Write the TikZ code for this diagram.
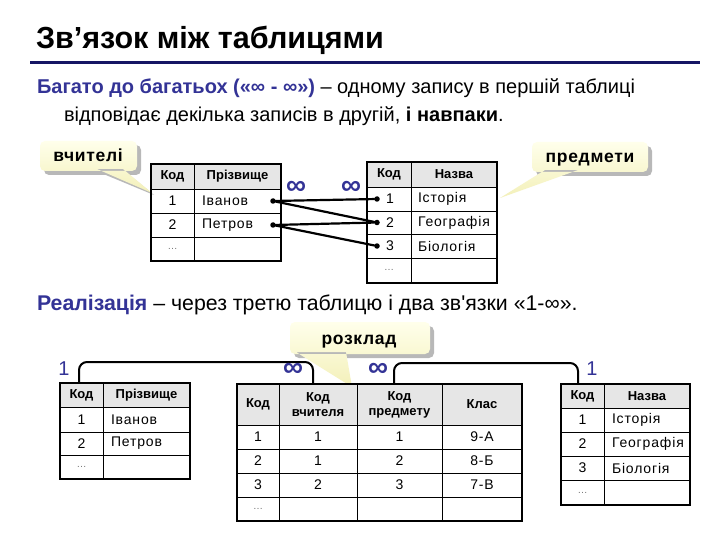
\documentclass[tikz,border=0pt]{standalone}
\usepackage{fontspec}
\setmainfont{Liberation Sans}[Ligatures=TeXOff]
\newfontfamily\cellfont{Liberation Sans}[Ligatures=TeXOff, LetterSpace=6]
\newfontfamily\callfont{Liberation Sans}[Ligatures=TeXOff, LetterSpace=4]
\definecolor{myblue}{RGB}{51,51,150}
\definecolor{navy}{RGB}{22,22,100}
\definecolor{hdrgrey}{RGB}{230,230,230}
\definecolor{bubtop}{RGB}{255,255,235}
\definecolor{bubbot}{RGB}{243,240,185}
\begin{document}
\begin{tikzpicture}[x=1pt,y=-1pt,
  every node/.style={inner sep=0pt, outer sep=0pt},
  ttl/.style={font=\fontsize{30.5}{34}\selectfont\bfseries, anchor=west},
  body/.style={font=\fontsize{20}{24}\selectfont, anchor=west},
  cell/.style={font=\fontsize{14}{16}\selectfont\cellfont},
  hcell/.style={font=\fontsize{13}{15}\selectfont\bfseries, align=center},
  lcell/.style={cell, anchor=west},
  etc/.style={font=\fontsize{10}{12}\selectfont, text=black!55},
  card/.style={font=\fontsize{20}{24}\selectfont, text=myblue},
  inf/.style={font=\fontsize{28}{30}\selectfont\bfseries, text=myblue},
  calltxt/.style={font=\fontsize{17.5}{20}\selectfont\callfont\bfseries, anchor=base},
  tblframe/.style={draw=black, line width=2pt},
  tblgrid/.style={draw=black, line width=0.9pt},
  link/.style={line width=2.2pt, line cap=round},
  pin/.style={circle, fill=black, minimum size=5.5pt, inner sep=0pt},
  rel/.style={line width=2pt, rounded corners=8pt},
  bubble/.style={top color=bubtop, bottom color=bubbot, draw=none},
  bubshadow/.style={fill=black!28},
]
\useasboundingbox (0,0) rectangle (720,540);
\fill[white] (0,0) rectangle (720,540);

% ---------- title ----------
\node[ttl] (title) at (36,40) {Зв’язок між таблицями};
\draw[navy, line width=3pt] (30,63) -- (700,63);

\node[body] (s1) at (37,88) {\textcolor{myblue}{\bfseries Багато до багатьох («∞ - ∞»)} – одному запису в першій таблиці};
\node[body] (s2) at (64,116) {відповідає декілька записів в другій, \textbf{і навпаки}.};

% ---------- callout: вчителі ----------
\fill[bubshadow, rounded corners=5pt] (44,145) rectangle (141,175);
\fill[bubshadow] (101,173) -- (127,173) -- (154,195) -- cycle;
\shade[bubble, rounded corners=5pt] (40,141) rectangle (137,171) [sharp corners] (97,169) -- (123,169) -- (152,193) -- cycle;
\node[calltxt] (cteach) at (88,162) {вчителі};

% ---------- callout: предмети ----------
\fill[bubshadow, rounded corners=5pt] (536,146) rectangle (652,176);
\shade[bubble, rounded corners=5pt] (532,142) rectangle (648,172) [sharp corners] (545,170) -- (578,170) -- (500,198) -- cycle;
\node[calltxt] (csubj) at (590,163) {предмети};

% ---------- top table 1 (teachers) ----------
\fill[hdrgrey] (151,164) rectangle (281,189);
\draw[tblgrid] (151,189) -- (281,189) (151,213) -- (281,213) (151,237) -- (281,237) (194,164) -- (194,261);
\draw[tblframe] (151,164) rectangle (281,261);
\node[hcell] (ta-h1) at (172.5,176.5) {Код};
\node[hcell] (ta-h2) at (237.5,176.5) {Прізвище};
\node[cell] (ta-k1) at (172.5,201) {1};
\node[lcell] (ta-n1) at (202,201) {Іванов};
\node[cell] (ta-k2) at (172.5,225) {2};
\node[lcell] (ta-n2) at (202,225) {Петров};
\node[etc] (ta-k3) at (172.5,249) {…};

% ---------- top table 2 (subjects) ----------
\fill[hdrgrey] (367,162) rectangle (497,187);
\draw[tblgrid] (367,187) -- (497,187) (367,211) -- (497,211) (367,234) -- (497,234) (367,258) -- (497,258) (411,162) -- (411,283);
\draw[tblframe] (367,162) rectangle (497,283);
\node[hcell] (tb-h1) at (389,174.5) {Код};
\node[hcell] (tb-h2) at (454,174.5) {Назва};
\node[cell] (tb-k1) at (390,199) {1};
\node[lcell] (tb-n1) at (418,199) {Історія};
\node[cell] (tb-k2) at (390,222.5) {2};
\node[lcell] (tb-n2) at (418,222.5) {Географія};
\node[cell] (tb-k3) at (390,246) {3};
\node[lcell] (tb-n3) at (418,246) {Біологія};
\node[etc] (tb-k4) at (389,270) {…};

% ---------- many-to-many links ----------
\node[pin] (p-t1) at (273,201) {};
\node[pin] (p-t2) at (273,225) {};
\node[pin] (p-s1) at (377,199) {};
\node[pin] (p-s2) at (377,222.5) {};
\node[pin] (p-s3) at (377,246) {};
\draw[link] (p-t1) -- (p-s1);
\draw[link] (p-t1) -- (p-s2);
\draw[link] (p-t2) -- (p-s2);
\draw[link] (p-t2) -- (p-s3);
\node[inf] (inf1) at (296,188) {∞};
\node[inf] (inf2) at (351,188) {∞};

% ---------- realisation ----------
\node[body, font=\fontsize{21.3}{25}\selectfont] (s3) at (37,305) {\textcolor{myblue}{\bfseries Реалізація} – через третю таблицю і два зв'язки «1-∞».};

% ---------- callout: розклад ----------
\fill[bubshadow, rounded corners=5pt] (294,326) rectangle (434,358);
\shade[bubble, rounded corners=5pt] (290,322) rectangle (430,354) [sharp corners] (296,352) -- (346,352) -- (352,387) -- cycle;
\node[calltxt] (csched) at (359,344) {розклад};

% ---------- bottom table A (teachers) ----------
\fill[hdrgrey] (60,383) rectangle (190,407);
\draw[tblgrid] (60,407) -- (190,407) (60,432) -- (190,432) (60,455) -- (190,455) (103,383) -- (103,479);
\draw[tblframe] (60,383) rectangle (190,479);
\node[hcell] (A-h1) at (81.5,395) {Код};
\node[hcell] (A-h2) at (146.5,395) {Прізвище};
\node[cell] (A-k1) at (81.5,419.5) {1};
\node[lcell] (A-n1) at (111,419.5) {Іванов};
\node[cell] (A-k2) at (81.5,443.5) {2};
\node[lcell] (A-n2) at (111,443.5) {Петров};
\node[etc] (A-k3) at (81.5,467) {…};

% ---------- bottom table B (schedule) ----------
\fill[hdrgrey] (237,384) rectangle (522,425);
\draw[tblgrid] (237,425) -- (522,425) (237,449) -- (522,449) (237,473) -- (522,473) (237,497) -- (522,497)
  (279,384) -- (279,521) (357,384) -- (357,521) (442,384) -- (442,521);
\draw[tblframe] (237,384) rectangle (522,521);
\node[hcell] (B-h1) at (258,404.5) {Код};
\node[hcell] (B-h2) at (318,404.5) {Код\\вчителя};
\node[hcell] (B-h3) at (399.5,404.5) {Код\\предмету};
\node[hcell] (B-h4) at (482,404.5) {Клас};
\node[cell] (B-11) at (258,437) {1};
\node[cell] (B-12) at (318,437) {1};
\node[cell] (B-13) at (399.5,437) {1};
\node[cell] (B-14) at (482,437) {9-А};
\node[cell] (B-21) at (258,461) {2};
\node[cell] (B-22) at (318,461) {1};
\node[cell] (B-23) at (399.5,461) {2};
\node[cell] (B-24) at (482,461) {8-Б};
\node[cell] (B-31) at (258,485) {3};
\node[cell] (B-32) at (318,485) {2};
\node[cell] (B-33) at (399.5,485) {3};
\node[cell] (B-34) at (482,485) {7-В};
\node[etc] (B-41) at (258,509) {…};

% ---------- bottom table C (subjects) ----------
\fill[hdrgrey] (561,384) rectangle (690,408);
\draw[tblgrid] (561,408) -- (690,408) (561,432) -- (690,432) (561,456) -- (690,456) (561,480) -- (690,480) (604,384) -- (604,505);
\draw[tblframe] (561,384) rectangle (690,505);
\node[hcell] (C-h1) at (582.5,396) {Код};
\node[hcell] (C-h2) at (647,396) {Назва};
\node[cell] (C-k1) at (582.5,420) {1};
\node[lcell] (C-n1) at (612,420) {Історія};
\node[cell] (C-k2) at (582.5,444) {2};
\node[lcell] (C-n2) at (612,444) {Географія};
\node[cell] (C-k3) at (582.5,468) {3};
\node[lcell] (C-n3) at (612,468) {Біологія};
\node[etc] (C-k4) at (582.5,492.5) {…};

% ---------- one-to-many relations ----------
\coordinate (rA) at (79,383);
\coordinate (rB1) at (313,384);
\coordinate (rB2) at (394,384);
\coordinate (rC) at (578,384);
\draw[rel] (rA) -- ++(0,-21) -| (rB1);
\draw[rel] (rB2) -- ++(0,-21) -| (rC);
\node[card] (one1) at (64,369) {1};
\node[inf] (infA) at (293,370) {∞};
\node[inf] (infB) at (378,370) {∞};
\node[card] (one2) at (592,369) {1};
\end{tikzpicture}
\end{document}
